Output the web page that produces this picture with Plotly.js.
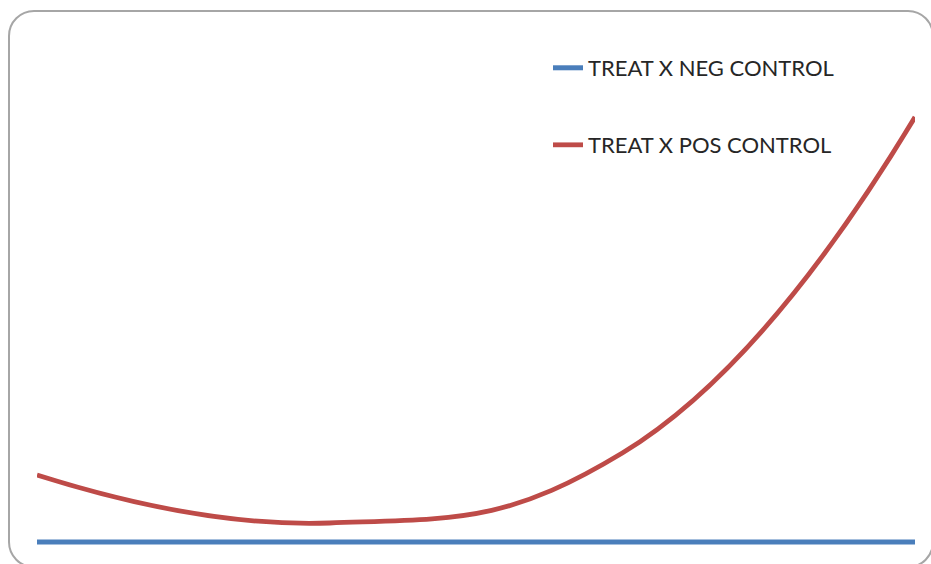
<!DOCTYPE html>
<html>
<head>
<meta charset="utf-8">
<script src="https://cdn.plot.ly/plotly-3.0.1.min.js"></script>
<style>
html, body { margin: 0; padding: 0; background: #ffffff; overflow: hidden; }
#wrap { position: relative; width: 931px; height: 564px; overflow: hidden; }
#frame { position: absolute; left: 8px; top: 10px; width: 926px; height: 558px;
         border: 2px solid #a6a6a6; border-radius: 26px; box-sizing: border-box; }
#chart { position: absolute; left: 0; top: 0; width: 931px; height: 564px; }
</style>
</head>
<body>
<div id="wrap">
  <div id="frame"></div>
  <div id="chart"></div>
</div>
<script>
// Data (arbitrary units; y-axis is hidden)
const categories = [1, 2, 3, 4];
const negControl = [0, 0, 0, 0];
const posControl = [67, 19, 89, 425];
const seriesNames = ["TREAT X NEG CONTROL", "TREAT X POS CONTROL"];

const traces = [
  {
    x: categories, y: negControl, name: seriesNames[0], type: "scatter", mode: "lines",
    line: { color: "#4A7EBB", width: 5, shape: "spline", smoothing: 1.3 },
    legend: "legend", hoverinfo: "skip"
  },
  {
    x: categories, y: posControl, name: seriesNames[1], type: "scatter", mode: "lines",
    line: { color: "#BE4B48", width: 4.8, shape: "spline", smoothing: 1.3 },
    legend: "legend2", hoverinfo: "skip"
  }
];

const legendFont = { family: "Lato, 'Open Sans', sans-serif", size: 22, color: "#262626" };

const layout = {
  width: 931, height: 564,
  margin: { l: 37, r: 16, t: 20, b: 12 },
  paper_bgcolor: "rgba(0,0,0,0)",
  plot_bgcolor: "rgba(0,0,0,0)",
  showlegend: true,
  xaxis: { visible: false, range: [1, 4], fixedrange: true },
  yaxis: { visible: false, range: [-10, 522], fixedrange: true },
  legend: { x: 0.582, y: 0.9098, xanchor: "left", yanchor: "middle",
            bgcolor: "rgba(0,0,0,0)", font: legendFont },
  legend2: { x: 0.582, y: 0.765, xanchor: "left", yanchor: "middle",
             bgcolor: "rgba(0,0,0,0)", font: legendFont }
};

Plotly.newPlot("chart", traces, layout, { displayModeBar: false, staticPlot: true });
</script>
</body>
</html>
